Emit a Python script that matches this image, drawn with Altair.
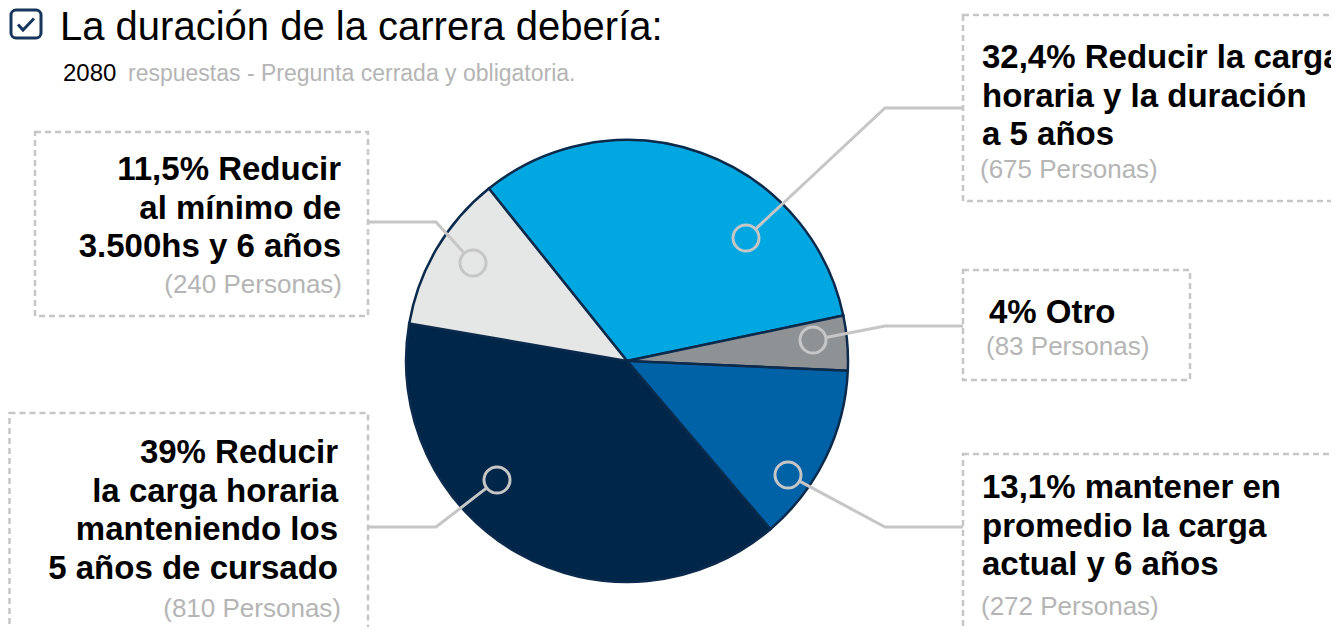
import math
import altair as alt
import pandas as pd

# ---------------- data ----------------
categories = [
    "Reducir la carga horaria y la duración a 5 años",
    "Otro",
    "mantener en promedio la carga actual y 6 años",
    "Reducir la carga horaria manteniendo los 5 años de cursado",
    "Reducir al mínimo de 3.500hs y 6 años",
]
counts = [675, 83, 272, 810, 240]
pct_labels = ["32,4%", "4%", "13,1%", "39%", "11,5%"]
label_lines = [
    ["32,4% Reducir la carga", "horaria y la duración", "a 5 años"],
    ["4% Otro"],
    ["13,1% mantener en", "promedio la carga", "actual y 6 años"],
    ["39% Reducir", "la carga horaria", "manteniendo los", "5 años de cursado\u00a0"],
    ["11,5% Reducir", "al mínimo de", "3.500hs y 6 años"],
]
person_labels = [f"({c} Personas)" for c in counts]
total_label = "2080"
title_text = "La duración de la carrera debería:"
subtitle_text = "respuestas - Pregunta cerrada y obligatoria."

# ---------------- style / layout ----------------
slice_colors = ["#00a7e1", "#8f9295", "#0062a6", "#00264a", "#e5e6e6"]
STROKE = "#0b2a4c"
GRAY_LINE = "#c6c6c6"
GRAY_TEXT = "#b5b5b5"
FONT = "Liberation Sans"

W, H = 1323, 619
OFF = 8  # page margin, layout coordinates below are page pixels
CX, CY, R = 627, 361, 221
START = 5.608  # radians, clockwise from 12 o'clock

# label layout: (x, first baseline, align, gray x, gray baseline)
label_layout = [
    (982, 68, "left", 980, 178),
    (989, 323, "left", 986, 355),
    (982, 498, "left", 981, 615),
    (338, 463, "right", 341, 617),
    (341, 180, "right", 342, 293),
]
LINE_STEP = 38.5

# leader: circle center, elbow, end
leaders = [
    ((746, 238), (885, 108), (963, 108)),
    ((813, 340), (885, 326), (963, 326)),
    ((788, 475), (885, 527), (963, 527)),
    ((497, 480), (436, 527), (367, 527)),
    ((473, 263), (436, 222), (367, 222)),
]
CR = 13

boxes = [
    (963, 15, 1360, 201),
    (963, 270, 1190, 380),
    (963, 454, 1338, 660),
    (9.5, 413, 368, 660),
    (35, 132, 368, 316),
]

# ---------------- tables ----------------
pie_df = pd.DataFrame({"cat": categories, "count": counts, "idx": list(range(len(categories)))})

text_rows = []
for i, lines in enumerate(label_lines):
    x, y0, align, gx, gy = label_layout[i]
    for j, t in enumerate(lines):
        text_rows.append({"text": t, "x": x, "y": y0 + j * LINE_STEP, "align": align, "kind": "bold"})
    text_rows.append({"text": person_labels[i], "x": gx, "y": gy, "align": align, "kind": "gray"})
text_df = pd.DataFrame(text_rows)

line_rows = []
circ_rows = []
for i, (c, e, f) in enumerate(leaders):
    dx, dy = e[0] - c[0], e[1] - c[1]
    L = math.hypot(dx, dy)
    sx, sy = c[0] + dx / L * CR, c[1] + dy / L * CR
    for k, (px, py) in enumerate([(sx, sy), e, f]):
        line_rows.append({"g": i, "k": k, "x": px, "y": py})
    circ_rows.append({"x": c[0], "y": c[1]})
line_df = pd.DataFrame(line_rows)
circ_df = pd.DataFrame(circ_rows)

box_df = pd.DataFrame([{"x": b[0], "y": b[1], "x2": b[2], "y2": b[3]} for b in boxes])

xs = alt.Scale(domain=[OFF, OFF + W], range=[0, W], nice=False, zero=False)
ys = alt.Scale(domain=[OFF, OFF + H], range=[0, H], nice=False, zero=False)
X = lambda f: alt.X(f, type="quantitative", scale=xs, axis=None)
Y = lambda f: alt.Y(f, type="quantitative", scale=ys, axis=None)

pie = alt.Chart(pie_df).mark_arc(radius=R, stroke=STROKE, strokeWidth=2.5).encode(
    theta=alt.Theta("count:Q", stack=True, scale=alt.Scale(range=[START, START + 2 * math.pi])),
    color=alt.Color("cat:N", scale=alt.Scale(domain=categories, range=slice_colors), legend=None),
    order=alt.Order("idx:Q"),
    x=alt.value(CX - OFF),
    y=alt.value(CY - OFF),
)

box_layer = alt.Chart(box_df).mark_rect(
    fillOpacity=0, stroke=GRAY_LINE, strokeWidth=2.5, strokeDash=[6, 4]
).encode(x=X("x"), x2="x2", y=Y("y"), y2="y2")

leader_layer = alt.Chart(line_df).mark_line(color=GRAY_LINE, strokeWidth=3).encode(
    x=X("x"), y=Y("y"), detail="g:N", order="k:Q"
)
circle_layer = alt.Chart(circ_df).mark_point(
    shape="circle", filled=False, size=(2 * CR) ** 2, color=GRAY_LINE, strokeWidth=3, opacity=1
).encode(x=X("x"), y=Y("y"))


def text_layer(kind, align, size, weight, color):
    return alt.Chart(text_df).transform_filter(
        (alt.datum.kind == kind) & (alt.datum.align == align)
    ).mark_text(
        align=align, baseline="alphabetic", font=FONT, fontSize=size, fontWeight=weight, color=color
    ).encode(x=X("x"), y=Y("y"), text="text:N")


texts = [
    text_layer("bold", "left", 33, "bold", "#000000"),
    text_layer("bold", "right", 33, "bold", "#000000"),
    text_layer("gray", "left", 26, "normal", GRAY_TEXT),
    text_layer("gray", "right", 26, "normal", GRAY_TEXT),
]

head_df = pd.DataFrame([
    {"text": title_text, "x": 60, "y": 40, "kind": "title"},
    {"text": total_label, "x": 63, "y": 81, "kind": "num"},
    {"text": subtitle_text, "x": 128, "y": 81, "kind": "sub"},
])
title_layer = alt.Chart(head_df).transform_filter(alt.datum.kind == "title").mark_text(
    align="left", baseline="alphabetic", font=FONT, fontSize=40, color="#000000"
).encode(x=X("x"), y=Y("y"), text="text:N")
num_layer = alt.Chart(head_df).transform_filter(alt.datum.kind == "num").mark_text(
    align="left", baseline="alphabetic", font=FONT, fontSize=24, color="#000000"
).encode(x=X("x"), y=Y("y"), text="text:N")
sub_layer = alt.Chart(head_df).transform_filter(alt.datum.kind == "sub").mark_text(
    align="left", baseline="alphabetic", font=FONT, fontSize=23, color=GRAY_TEXT
).encode(x=X("x"), y=Y("y"), text="text:N")

icon_df = pd.DataFrame([{"x": 11, "y": 10, "x2": 41, "y2": 38}])
icon_box = alt.Chart(icon_df).mark_rect(
    fillOpacity=0, stroke="#16365c", strokeWidth=3, cornerRadius=5
).encode(x=X("x"), x2="x2", y=Y("y"), y2="y2")
check_df = pd.DataFrame([{"x": 18, "y": 24.5, "k": 0}, {"x": 23, "y": 30, "k": 1}, {"x": 34, "y": 18.5, "k": 2}])
icon_check = alt.Chart(check_df).mark_line(color="#16365c", strokeWidth=3).encode(
    x=X("x"), y=Y("y"), order="k:Q"
)

chart = alt.layer(
    pie, box_layer, leader_layer, circle_layer, *texts, title_layer, num_layer, sub_layer, icon_box, icon_check
).properties(
    width=W, height=H, padding=0, autosize=alt.AutoSizeParams(type="none")
).configure_view(stroke=None)

chart.save("out.html", embed_options={"renderer": "svg", "actions": False})
